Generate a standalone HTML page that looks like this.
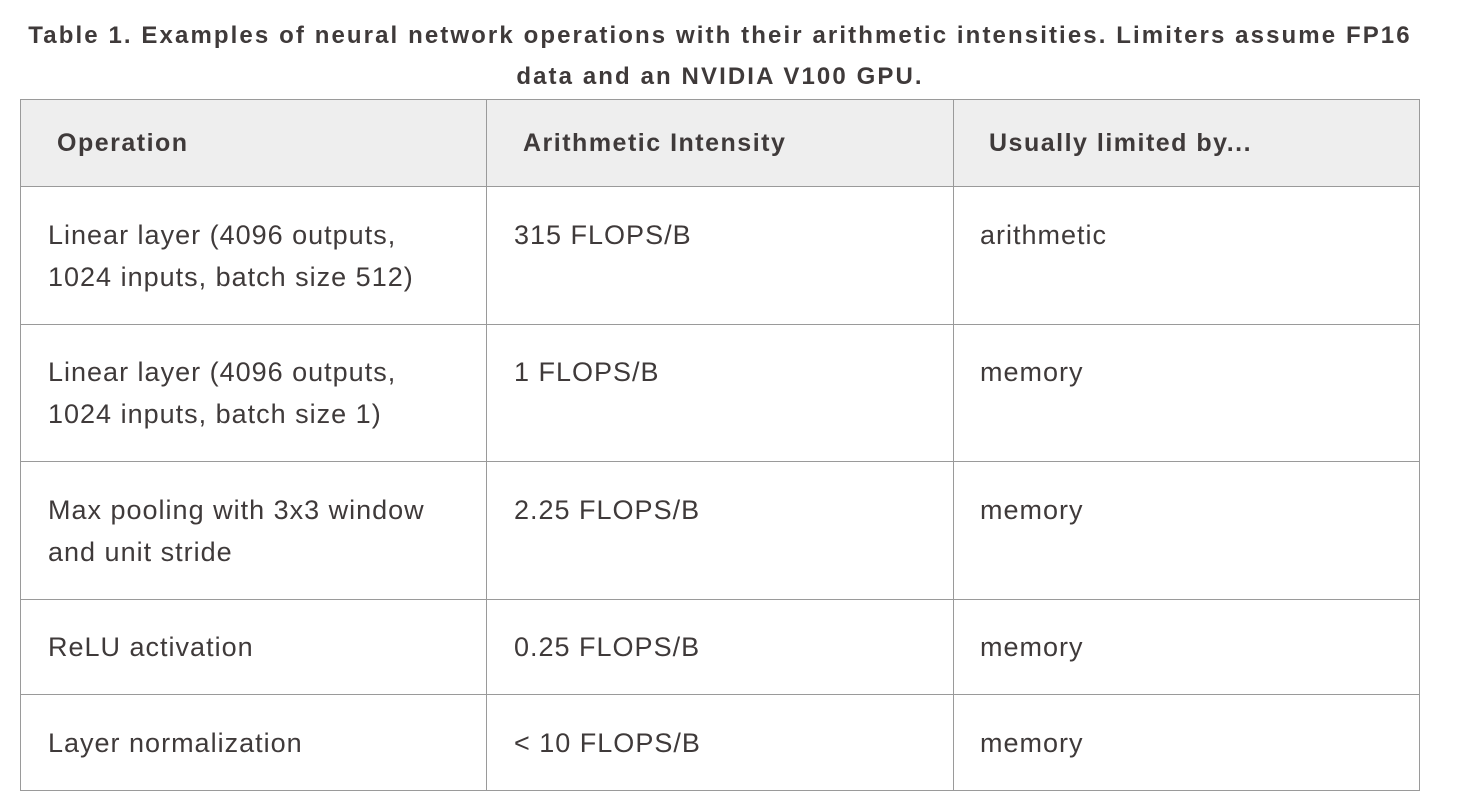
<!DOCTYPE html>
<html><head><meta charset="utf-8"><style>
body{margin:0;width:1466px;height:808px;background:#fff;font-family:"Liberation Sans",sans-serif;color:#3f3a3a;position:relative;overflow:hidden}
.t{position:absolute;left:0;width:1440px;text-align:center;font-weight:bold;font-size:24px;letter-spacing:2.1px;line-height:41px;top:15px}
.h{position:absolute;left:20px;top:100px;width:1399px;height:86px;background:#eeeeee}
.l{position:absolute;background:#9a9a9a}
.x{position:absolute;font-size:27px;letter-spacing:1px;line-height:42px;white-space:nowrap}
.b{font-weight:bold;font-size:25px;letter-spacing:1.5px}
</style></head><body>
<div class="t">Table 1. Examples of neural network operations with their arithmetic intensities. Limiters assume FP16<br>data and an NVIDIA V100 GPU.</div>
<div class="h"></div>
<div class="l" style="left:20px;top:99px;width:1400px;height:1px"></div>
<div class="l" style="left:20px;top:186px;width:1400px;height:1px"></div>
<div class="l" style="left:20px;top:324px;width:1400px;height:1px"></div>
<div class="l" style="left:20px;top:461px;width:1400px;height:1px"></div>
<div class="l" style="left:20px;top:599px;width:1400px;height:1px"></div>
<div class="l" style="left:20px;top:694px;width:1400px;height:1px"></div>
<div class="l" style="left:20px;top:790px;width:1400px;height:1px"></div>
<div class="l" style="left:20px;top:99px;width:1px;height:692px"></div>
<div class="l" style="left:486px;top:99px;width:1px;height:692px"></div>
<div class="l" style="left:953px;top:99px;width:1px;height:692px"></div>
<div class="l" style="left:1419px;top:99px;width:1px;height:692px"></div>
<div class="x b" style="left:57px;top:122px">Operation</div>
<div class="x b" style="left:523px;top:122px">Arithmetic Intensity</div>
<div class="x b" style="left:989px;top:122px">Usually limited by...</div>
<div class="x" style="left:48px;top:214px">Linear layer (4096 outputs,<br>1024 inputs, batch size 512)</div>
<div class="x" style="left:514px;top:214px">315 FLOPS/B</div>
<div class="x" style="left:980px;top:214px">arithmetic</div>
<div class="x" style="left:48px;top:351px">Linear layer (4096 outputs,<br>1024 inputs, batch size 1)</div>
<div class="x" style="left:514px;top:351px">1 FLOPS/B</div>
<div class="x" style="left:980px;top:351px">memory</div>
<div class="x" style="left:48px;top:489px">Max pooling with 3x3 window<br>and unit stride</div>
<div class="x" style="left:514px;top:489px">2.25 FLOPS/B</div>
<div class="x" style="left:980px;top:489px">memory</div>
<div class="x" style="left:48px;top:626px">ReLU activation</div>
<div class="x" style="left:514px;top:626px">0.25 FLOPS/B</div>
<div class="x" style="left:980px;top:626px">memory</div>
<div class="x" style="left:48px;top:722px">Layer normalization</div>
<div class="x" style="left:514px;top:722px">&lt; 10 FLOPS/B</div>
<div class="x" style="left:980px;top:722px">memory</div>
</body></html>
